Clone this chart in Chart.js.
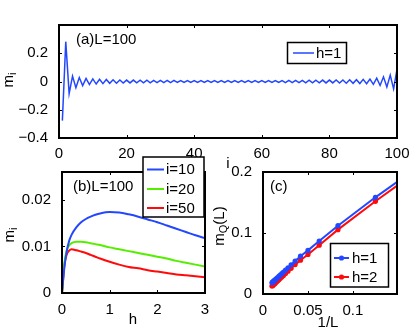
<!DOCTYPE html>
<html><head><meta charset="utf-8">
<script src="https://cdn.jsdelivr.net/npm/chart.js@4.4.1/dist/chart.umd.min.js"></script>
<style>
html,body{margin:0;padding:0;background:#fff;}
#wrap{position:relative;width:415px;height:333px;overflow:hidden;background:#fff;}
#wrap canvas{position:absolute;left:0;top:0;}
</style></head><body>
<div id="wrap">
<canvas id="ca" width="415" height="333"></canvas>
<canvas id="cb" width="415" height="333"></canvas>
<canvas id="cc" width="415" height="333"></canvas>
</div>
<script>
// ---------- DATA ----------
// Panel (a): site index i and magnetization m_i for L=100, h=1
const siteIndex = [1,2,3,4,5,6,7,8,9,10,11,12,13,14,15,16,17,18,19,20,
  21,22,23,24,25,26,27,28,29,30,31,32,33,34,35,36,37,38,39,40,
  41,42,43,44,45,46,47,48,49,50,51,52,53,54,55,56,57,58,59,60,
  61,62,63,64,65,66,67,68,69,70,71,72,73,74,75,76,77,78,79,80,
  81,82,83,84,85,86,87,88,89,90,91,92,93,94,95,96,97,98,99,100];
const magA = [-0.277,0.282,-0.086,0.038,-0.044,0.028,-0.029,0.022,-0.022,0.018,
  -0.018,0.016,-0.015,0.014,-0.013,0.012,-0.012,0.011,-0.011,0.010,
  -0.010,0.010,-0.009,0.009,-0.009,0.009,-0.009,0.008,-0.008,0.008,
  -0.008,0.008,-0.008,0.008,-0.007,0.007,-0.007,0.007,-0.007,0.007,
  -0.007,0.007,-0.007,0.007,-0.007,0.007,-0.007,0.007,-0.007,0.007,
  -0.007,0.007,-0.007,0.007,-0.007,0.007,-0.007,0.007,-0.007,0.007,
  -0.007,0.007,-0.007,0.007,-0.007,0.007,-0.008,0.008,-0.008,0.008,
  -0.008,0.008,-0.009,0.009,-0.009,0.009,-0.009,0.010,-0.010,0.010,
  -0.010,0.011,-0.011,0.011,-0.012,0.012,-0.013,0.013,-0.014,0.015,
  -0.016,0.017,-0.020,0.024,-0.028,0.033,-0.038,0.045,-0.052,0.085];
const xTicksA = [0,20,40,60,80,100];
const yTicksA = [-0.4,-0.2,0,0.2];
const seriesLabelA = 'h=1';

// Panel (b): m_i versus h for L=100
const fieldH = [0,0.05,0.1,0.15,0.2,0.3,0.4,0.5,0.6,0.7,0.8,1.0,1.2,1.4,1.6,1.8,2.0,2.2,2.4,2.6,2.8,3.0];
const magI10 = [0,0.0055,0.0090,0.0112,0.0125,0.0141,0.0152,0.0159,0.0164,0.0168,0.0171,0.0174,0.0173,0.0169,0.0164,0.0158,0.0152,0.0145,0.0138,0.0131,0.0124,0.0118];
const magI20 = [0,0.0065,0.0092,0.0102,0.0107,0.0110,0.0110,0.0109,0.0107,0.0105,0.0103,0.0098,0.0094,0.0090,0.0086,0.0082,0.0078,0.0074,0.0069,0.0065,0.0061,0.0057];
const magI50 = [0,0.0060,0.0083,0.0091,0.0094,0.0092,0.0089,0.0086,0.0082,0.0078,0.0074,0.0067,0.0061,0.0056,0.0053,0.0049,0.0046,0.0043,0.0040,0.0038,0.0036,0.0034];
const seriesLabelsB = ['i=10','i=20','i=50'];
const xTicksB = [0,1,2,3];
const yTicksB = [0,0.01,0.02];

// Panel (c): m_Q(L) versus 1/L
const invL = [0.16667,0.125,0.08333,0.0625,0.05,0.04167,0.03571,0.03125,0.02778,0.025,0.02273,0.02083,0.01923,0.01786,0.01667,0.01563,0.01471,0.01389,0.01316,0.0125,0.0119,0.01136,0.01087,0.01042,0.01];
const mQh1 = [0.202,0.1585,0.112,0.0869,0.0715,0.0620,0.0540,0.0478,0.0430,0.0391,0.0359,0.0333,0.0311,0.0292,0.0275,0.0261,0.0248,0.0237,0.0227,0.0218,0.0210,0.0202,0.0196,0.0189,0.0183];
const mQh2 = [0.196,0.152,0.1055,0.0800,0.0648,0.0553,0.0482,0.0421,0.0374,0.0336,0.0305,0.0279,0.0257,0.0238,0.0222,0.0208,0.0195,0.0184,0.0174,0.0165,0.0157,0.0150,0.0143,0.0137,0.0131];
const seriesLabelsC = ['h=1','h=2'];
const xTicksC = [0,0.05,0.1];
const yTicksC = [0,0.1,0.2];

// ---------- STYLE ----------
const FONT = '"Liberation Sans", Arial, Helvetica, sans-serif';
const TICK_SIZE = 15;
const TEXT_SIZE = 15;
const BLUE = '#2347ff';
const GREEN = '#55ee00';
const RED = '#ff0a0a';

function pts(xs, ys){ return xs.map((x,k)=>({x:x, y:ys[k]})); }
function fmt(v){ return String(v).replace('-', '\u2212'); }

function frameTicksPlugin(){
  return {
    id:'frameTicks',
    afterDatasetsDraw(chart){
      const {ctx, chartArea:a, scales} = chart;
      ctx.save();
      ctx.strokeStyle = '#000';
      ctx.lineWidth = 1;
      const L = Math.round(a.left), R = Math.round(a.right), T = Math.round(a.top), B = Math.round(a.bottom);
      const tl = 3;
      ctx.beginPath();
      scales.x.ticks.forEach(t=>{
        const p = Math.round(scales.x.getPixelForValue(t.value)) + 0.5;
        ctx.moveTo(p, B); ctx.lineTo(p, B - tl);
        ctx.moveTo(p, T); ctx.lineTo(p, T + tl);
      });
      scales.y.ticks.forEach(t=>{
        const p = Math.round(scales.y.getPixelForValue(t.value)) + 0.5;
        ctx.moveTo(L, p); ctx.lineTo(L + tl, p);
        ctx.moveTo(R, p); ctx.lineTo(R - tl, p);
      });
      ctx.stroke();
      ctx.lineWidth = 2;
      ctx.strokeRect(L, T, R - L, B - T);
      ctx.restore();
    }
  };
}

function drawRich(ctx, parts, x, y, rot){
  ctx.save();
  ctx.translate(x, y);
  if (rot) ctx.rotate(-Math.PI/2);
  let total = 0;
  parts.forEach(p=>{ ctx.font = p.size + 'px ' + FONT; p.w = ctx.measureText(p.t).width; total += p.w; });
  let cx = -total/2;
  ctx.fillStyle = '#000';
  ctx.textBaseline = 'middle';
  ctx.textAlign = 'left';
  parts.forEach(p=>{ ctx.font = p.size + 'px ' + FONT; ctx.fillText(p.t, cx, p.dy || 0); cx += p.w; });
  ctx.restore();
}

function textPlugin(items){
  return {
    id:'texts',
    afterDraw(chart){
      const ctx = chart.ctx;
      items.forEach(it=>{
        if (it.left !== undefined){
          ctx.save();
          ctx.font = TEXT_SIZE + 'px ' + FONT;
          ctx.fillStyle = '#000'; ctx.textBaseline='middle'; ctx.textAlign='left';
          ctx.fillText(it.text, it.left, it.y);
          ctx.restore();
        } else {
          drawRich(ctx, it.parts, it.x, it.y, it.rot);
        }
      });
    }
  };
}

function legendPlugin(cfg){
  return {
    id:'boxLegend',
    afterDraw(chart){
      const ctx = chart.ctx;
      ctx.save();
      ctx.fillStyle = '#fff';
      ctx.fillRect(cfg.x, cfg.y, cfg.w, cfg.h);
      ctx.strokeStyle = '#000'; ctx.lineWidth = 1.5;
      ctx.strokeRect(cfg.x, cfg.y, cfg.w, cfg.h);
      chart.data.datasets.forEach((ds, k)=>{
        const yy = cfg.rows[k];
        ctx.strokeStyle = ds.borderColor; ctx.lineWidth = ds.borderWidth;
        ctx.beginPath(); ctx.moveTo(cfg.x0, yy); ctx.lineTo(cfg.x1, yy); ctx.stroke();
        if (cfg.marker){
          ctx.fillStyle = ds.borderColor;
          ctx.beginPath(); ctx.arc((cfg.x0+cfg.x1)/2, yy, cfg.marker, 0, Math.PI*2); ctx.fill();
        }
        ctx.fillStyle = '#000';
        ctx.font = TEXT_SIZE + 'px ' + FONT;
        ctx.textBaseline = 'middle'; ctx.textAlign = 'left';
        ctx.fillText(ds.label, cfg.tx, yy + 0.5);
      });
      ctx.restore();
    }
  };
}

function axisOpts(min, max, tickVals, isX, size, pad){
  return {
    type:'linear', min:min, max:max,
    grid:{display:false}, border:{display:false},
    afterBuildTicks(s){ s.ticks = tickVals.map(v=>({value:v})); },
    afterFit(s){
      if (isX){ s.height = size; s.paddingLeft = 0; s.paddingRight = 0; }
      else { s.width = size; s.paddingTop = 0; s.paddingBottom = 0; }
    },
    ticks:{ color:'#000', font:{family:FONT, size:TICK_SIZE}, padding:pad, autoSkip:false, maxRotation:0, minRotation:0,
      callback:(v)=>fmt(v) }
  };
}

function baseOptions(padding, xs, ys){
  return {
    responsive:false, animation:false, events:[], devicePixelRatio:1,
    layout:{autoPadding:false, padding:padding},
    plugins:{legend:{display:false}, tooltip:{enabled:false}, title:{display:false}},
    scales:{x:xs, y:ys}
  };
}

// ---------- PANEL (a) ----------
new Chart(document.getElementById('ca'), {
  type:'line',
  data:{datasets:[{label:seriesLabelA, data:pts(siteIndex, magA), borderColor:BLUE, borderWidth:1.5,
    pointRadius:0, tension:0, clip:0}]},
  options: baseOptions({left:0, top:25, right:18, bottom:155},
    axisOpts(0, 100, xTicksA, true, 40, -1),
    axisOpts(-0.4, 0.4, yTicksA, false, 59, 3)),
  plugins:[frameTicksPlugin(),
    textPlugin([
      {text:'(a)L=100', left:76, y:40},
      {parts:[{t:'i', size:TEXT_SIZE}], x:228, y:164},
      {parts:[{t:'m', size:TEXT_SIZE},{t:'i', size:11, dy:4}], x:9, y:80, rot:true}
    ]),
    legendPlugin({x:287.5, y:42.5, w:59, h:21, rows:[53], x0:293, x1:314, tx:316})]
});

// ---------- PANEL (b) ----------
new Chart(document.getElementById('cb'), {
  type:'line',
  data:{datasets:[
    {label:seriesLabelsB[0], data:pts(fieldH, magI10), borderColor:BLUE, borderWidth:2, pointRadius:0, tension:0.4, cubicInterpolationMode:'monotone', clip:0},
    {label:seriesLabelsB[1], data:pts(fieldH, magI20), borderColor:GREEN, borderWidth:2, pointRadius:0, tension:0.4, cubicInterpolationMode:'monotone', clip:0},
    {label:seriesLabelsB[2], data:pts(fieldH, magI50), borderColor:RED, borderWidth:2, pointRadius:0, tension:0.4, cubicInterpolationMode:'monotone', clip:0}
  ]},
  options: baseOptions({left:0, top:172, right:210, bottom:5},
    axisOpts(0, 3, xTicksB, true, 35, 0),
    axisOpts(0, 0.026, yTicksB, false, 62, 3)),
  plugins:[frameTicksPlugin(),
    textPlugin([
      {text:'(b)L=100', left:73, y:186.5},
      {parts:[{t:'h', size:TEXT_SIZE}], x:133, y:320},
      {parts:[{t:'m', size:TEXT_SIZE},{t:'i', size:11, dy:4}], x:10, y:235, rot:true}
    ]),
    legendPlugin({x:143, y:157, w:61, h:60, rows:[169.5, 189, 208], x0:147, x1:164, tx:166})]
});

// ---------- PANEL (c) ----------
new Chart(document.getElementById('cc'), {
  type:'line',
  data:{datasets:[
    {label:seriesLabelsC[0], data:pts(invL, mQh1), borderColor:BLUE, backgroundColor:BLUE, borderWidth:2,
      pointRadius:2.6, pointBorderWidth:0, pointBackgroundColor:BLUE, tension:0, clip:0},
    {label:seriesLabelsC[1], data:pts(invL, mQh2), borderColor:RED, backgroundColor:RED, borderWidth:2,
      pointRadius:2.6, pointBorderWidth:0, pointBackgroundColor:RED, tension:0, clip:0}
  ]},
  options: baseOptions({left:223, top:172, right:18, bottom:4},
    axisOpts(0, 0.149, xTicksC, true, 35, 0),
    axisOpts(0, 0.2, yTicksC, false, 40, 3)),
  plugins:[frameTicksPlugin(),
    textPlugin([
      {text:'(c)', left:270, y:187},
      {parts:[{t:'1/L', size:TEXT_SIZE}], x:328, y:323},
      {parts:[{t:'m', size:TEXT_SIZE},{t:'Q', size:11, dy:4},{t:'(L)', size:TEXT_SIZE}], x:220, y:226, rot:true}
    ]),
    legendPlugin({x:330.5, y:243.5, w:58, h:43.5, rows:[258, 277], x0:334, x1:349, tx:352, marker:2.6})]
});
</script>
</body></html>
